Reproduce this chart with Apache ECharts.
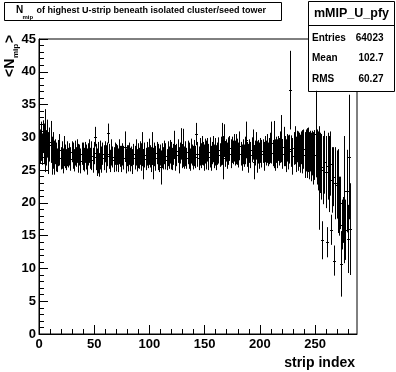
<!DOCTYPE html>
<html>
<head>
<meta charset="utf-8">
<script src="https://cdn.jsdelivr.net/npm/echarts@6/dist/echarts.min.js"></script>
<style>
html,body{margin:0;padding:0;background:#fff;}
#chart{width:396px;height:372px;}
</style>
</head>
<body>
<div id="chart"></div>
<script>
// ---- data ----
var nBins = 288;           // strip bins 0..287
var xTicks = [0, 50, 100, 150, 200, 250];
var xMinorTicks = [0, 10, 20, 30, 40, 50, 60, 70, 80, 90, 100, 110, 120, 130, 140, 150, 160, 170, 180, 190, 200, 210, 220, 230, 240, 250, 260, 270, 280];
var yTicks = [0, 5, 10, 15, 20, 25, 30, 35, 40, 45];

var means = [
  28.6, 29.4, 28.2, 30.1, 29.0, 29.5, 28.4, 29.8, 27.6, 28.9, 29.3, 27.2,
  28.0, 26.9, 27.8, 27.0, 26.5, 27.6, 28.1, 26.8, 27.3, 26.4, 27.9, 27.1,
  26.6, 27.5, 26.9, 27.4, 26.7, 27.8, 27.2, 26.5, 27.6, 27.0, 27.9, 26.8,
  27.3, 26.4, 27.5, 27.1, 26.6, 27.7, 27.0, 26.3, 27.4, 27.9, 26.8, 27.2,
  26.5, 27.6, 30.1, 27.0, 26.2, 26.9, 25.8, 27.3, 26.6, 27.5, 26.9, 27.8,
  26.7, 27.4, 30.6, 27.1, 26.4, 27.7, 27.0, 26.6, 27.5, 26.9, 27.3, 26.5,
  27.8, 27.1, 26.7, 27.4, 26.9, 28.6, 26.4, 27.2, 26.8, 27.5, 26.6, 27.1,
  26.3, 27.4, 26.9, 27.7, 26.5, 27.2, 26.8, 27.6, 27.0, 28.2, 25.9, 27.3,
  26.7, 27.5, 26.9, 27.8, 27.1, 26.6, 28.3, 26.0, 27.4, 26.8, 27.6, 27.0,
  26.5, 27.3, 25.4, 27.2, 26.8, 27.7, 27.1, 26.6, 27.5, 26.9, 27.8, 27.2,
  26.7, 27.4, 28.9, 26.8, 27.3, 27.9, 26.5, 27.6, 29.0, 27.1, 28.4, 26.9,
  27.5, 26.8, 27.7, 27.2, 26.6, 27.9, 27.3, 26.9, 27.6, 27.0, 30.5, 27.4,
  26.8, 27.8, 27.2, 28.0, 27.5, 26.9, 27.9, 27.3, 28.1, 27.0, 27.7, 26.8,
  27.6, 28.2, 27.1, 27.8, 26.9, 27.5, 28.0, 27.3, 27.9, 29.0, 26.9, 29.5,
  27.4, 28.0, 27.2, 27.9, 28.3, 27.5, 28.1, 27.7, 28.4, 27.6, 28.2, 27.8,
  27.3, 28.7, 27.5, 26.9, 27.8, 27.2, 28.0, 29.6, 27.4, 26.8, 27.9, 27.3,
  28.1, 28.9, 26.2, 27.6, 28.7, 27.0, 27.8, 27.2, 28.0, 27.5, 27.9, 27.1,
  28.2, 27.6, 28.3, 27.4, 27.9, 28.4, 29.2, 27.6, 28.9, 27.3, 28.1, 27.5,
  28.3, 27.8, 28.5, 29.8, 27.4, 28.6, 27.9, 27.2, 28.4, 27.7, 28.2, 37.2,
  27.9, 27.1, 28.3, 28.8, 27.4, 28.6, 27.9, 28.1, 27.5, 28.4, 27.8, 28.2,
  27.3, 28.0, 27.6, 28.1, 27.2, 27.9, 27.0, 27.6, 26.8, 27.3, 30.5, 27.0,
  26.4, 23.8, 26.1, 25.5, 14.3, 25.0, 26.2, 24.7, 14.0, 25.6, 24.4, 26.0,
  15.9, 23.5, 24.0, 11.2, 23.0, 22.8, 21.8, 19.5, 20.0, 10.7, 16.7, 17.4,
  20.5, 15.9, 21.8, 14.5, 27.0, 16.0, null, null, null, null, null, null
];
var errors = [
  2.6, 3.0, 2.4, 2.5, 3.1, 4.8, 2.7, 2.9, 3.2, 2.6, 3.2, 2.9,
  2.8, 2.6, 1.9, 2.2, 1.8, 2.0, 2.4, 1.7, 2.1, 1.9, 2.3, 1.8,
  1.6, 1.9, 1.5, 1.7, 1.8, 1.6, 2.0, 1.7, 1.9, 1.5, 1.8, 2.2,
  1.6, 1.9, 1.7, 2.1, 1.8, 1.6, 1.9, 2.0, 1.7, 1.8, 1.6, 2.2,
  1.9, 1.7, 1.5, 2.0, 2.1, 2.4, 1.8, 2.2, 2.0, 1.7, 1.9, 1.6,
  2.1, 1.8, 1.5, 1.9, 1.7, 2.0, 1.6, 1.9, 1.7, 2.1, 1.5, 1.8,
  1.9, 1.6, 2.0, 1.7, 1.8, 2.3, 1.9, 1.6, 2.0, 1.7, 1.8, 1.5,
  1.9, 1.6, 1.8, 2.0, 1.7, 1.9, 1.6, 1.8, 2.1, 2.6, 2.3, 1.9,
  1.7, 1.8, 1.6, 2.0, 1.7, 1.9, 2.5, 2.4, 1.8, 1.9, 1.7, 2.0,
  1.8, 1.6, 2.6, 1.9, 1.7, 1.8, 2.0, 1.6, 1.9, 1.7, 1.8, 2.1,
  1.7, 1.6, 2.1, 1.9, 1.7, 1.8, 2.0, 1.6, 2.4, 1.8, 2.9, 1.7,
  1.9, 1.6, 1.8, 2.0, 1.7, 1.9, 1.6, 1.8, 2.0, 1.7, 1.7, 1.9,
  1.8, 2.1, 1.9, 2.2, 1.8, 2.0, 1.9, 2.2, 1.8, 2.0, 2.3, 1.9,
  1.7, 2.0, 1.8, 2.1, 1.9, 1.7, 2.0, 1.8, 2.2, 3.2, 3.3, 2.5,
  1.9, 1.7, 2.0, 2.1, 1.9, 2.2, 2.0, 1.8, 2.1, 1.9, 2.3, 2.0,
  1.9, 2.2, 1.8, 2.0, 1.9, 1.7, 2.1, 2.8, 1.9, 2.2, 1.8, 2.0,
  1.9, 2.3, 2.6, 1.9, 2.1, 2.4, 1.8, 2.0, 1.9, 2.1, 1.8, 2.2,
  2.0, 1.9, 2.2, 1.8, 2.0, 2.3, 3.2, 2.0, 3.6, 2.4, 2.0, 2.2,
  1.9, 2.1, 2.4, 3.6, 2.2, 3.0, 2.3, 2.5, 2.1, 2.6, 2.2, 6.0,
  2.4, 2.8, 2.5, 2.9, 2.7, 2.4, 3.0, 2.6, 2.9, 2.5, 3.3, 3.0,
  3.5, 3.2, 3.8, 3.4, 3.6, 3.1, 3.7, 3.4, 4.0, 3.8, 6.6, 4.2,
  4.5, 7.9, 4.6, 5.0, 2.9, 5.2, 4.8, 5.5, 2.3, 5.1, 5.8, 4.9,
  2.3, 5.0, 4.5, 2.3, 5.5, 5.2, 6.4, 4.5, 4.0, 5.0, 3.8, 3.5,
  9.7, 4.6, 6.3, 5.2, 9.5, 7.0, null, null, null, null, null, null
];

var statsName = 'mMIP_U_pfy';
var statsLabels = ['Entries', 'Mean', 'RMS'];
var statsValues = ['64023', '102.7', '60.27'];

// ---- build ----
var points = [];
for (var i = 0; i < nBins; i++) {
  if (means[i] == null) continue;
  points.push([i + 0.5, means[i], errors[i]]);
}

var FONT = '"Liberation Sans", Arial, Helvetica, sans-serif';
var chart = echarts.init(document.getElementById('chart'), null, {renderer: 'canvas'});

function renderItem(params, api) {
  var x = api.value(0), m = api.value(1), e = api.value(2);
  var top = api.coord([x, m + e]);
  var bot = api.coord([x, m - e]);
  var l = api.coord([x - 0.5, m]);
  var r = api.coord([x + 0.5, m]);
  var px = Math.round(top[0]) + 0.5;
  var py = Math.round(l[1]) + 0.5;
  return {
    type: 'group',
    children: [
      {type: 'line', shape: {x1: px, y1: top[1], x2: px, y2: bot[1]}, style: {stroke: '#000', lineWidth: 1}},
      {type: 'line', shape: {x1: Math.floor(l[0]), y1: py, x2: Math.ceil(r[0]) + 1, y2: py}, style: {stroke: '#000', lineWidth: 1}}
    ]
  };
}

var statsChildren = [
  {type: 'rect', shape: {x: 308.5, y: 1.5, width: 86, height: 90}, style: {fill: '#fff', stroke: '#000', lineWidth: 1}},
  {type: 'line', shape: {x1: 308.5, y1: 25.5, x2: 394.5, y2: 25.5}, style: {stroke: '#000', lineWidth: 1}},
  {type: 'text', style: {text: statsName, x: 351.5, y: 14, align: 'center', verticalAlign: 'middle', font: 'bold 12.5px ' + FONT, fill: '#000'}}
];
var rowY = [38, 58.5, 79.5];
for (var k = 0; k < statsLabels.length; k++) {
  statsChildren.push({type: 'text', style: {text: statsLabels[k], x: 312, y: rowY[k], align: 'left', verticalAlign: 'middle', font: 'bold 10px ' + FONT, fill: '#000'}});
  statsChildren.push({type: 'text', style: {text: statsValues[k], x: 383.5, y: rowY[k], align: 'right', verticalAlign: 'middle', font: 'bold 10px ' + FONT, fill: '#000'}});
}

var option = {
  backgroundColor: '#fff',
  animation: false,
  grid: {left: 39, top: 39, width: 318, height: 295, show: true, borderColor: '#000', borderWidth: 1, backgroundColor: 'transparent', containLabel: false, outerBoundsMode: 'none'},
  xAxis: [{
    type: 'value', min: 0, max: nBins, interval: 50, position: 'bottom',
    axisLine: {show: true, lineStyle: {color: '#000', width: 1}},
    axisTick: {show: true, inside: true, length: 9, lineStyle: {color: '#000'}, customValues: xTicks},
    minorTick: {show: false},
    splitLine: {show: false},
    axisLabel: {show: true, margin: 4, color: '#000', fontFamily: FONT, fontWeight: 'bold', fontSize: 13, customValues: xTicks}
  }, {
    type: 'value', min: 0, max: nBins, interval: 10, position: 'bottom', offset: 0,
    axisLine: {show: false},
    axisTick: {show: true, inside: true, length: 5, lineStyle: {color: '#000'}, customValues: xMinorTicks},
    splitLine: {show: false},
    axisLabel: {show: false}
  }],
  yAxis: {
    type: 'value', min: 0, max: 45, interval: 5,
    axisLine: {show: true, lineStyle: {color: '#000', width: 1}},
    axisTick: {show: true, inside: true, length: 9, lineStyle: {color: '#000'}},
    minorTick: {show: true, splitNumber: 5, length: 5, lineStyle: {color: '#000'}},
    splitLine: {show: false},
    axisLabel: {show: true, margin: 3, color: '#000', fontFamily: FONT, fontWeight: 'bold', fontSize: 13, customValues: yTicks}
  },
  series: [{
    type: 'custom',
    renderItem: renderItem,
    data: points,
    xAxisIndex: 0,
    encode: {x: 0, y: 1},
    clip: true,
    silent: true
  }],
  graphic: [
    // title box
    {type: 'group', z: 100, children: [
      {type: 'rect', shape: {x: 4.5, y: 2.5, width: 277, height: 18}, style: {fill: '#fff', stroke: '#000', lineWidth: 1}},
      {type: 'text', style: {text: 'N', x: 16, y: 10.5, align: 'left', verticalAlign: 'middle', font: 'bold 10px ' + FONT, fill: '#000'}},
      {type: 'text', style: {text: 'mip', x: 22.5, y: 17, align: 'left', verticalAlign: 'middle', font: 'bold 6px ' + FONT, fill: '#000'}},
      {type: 'text', style: {text: 'of highest U-strip beneath isolated cluster/seed tower', x: 36.5, y: 10.5, align: 'left', verticalAlign: 'middle', font: 'bold 9px ' + FONT, fill: '#000'}}
    ]},
    // stats box
    {type: 'group', z: 100, children: statsChildren},
    // y axis title, rotated
    {type: 'group', x: 17, y: 77, rotation: Math.PI / 2, z: 100, children: [
      {type: 'text', style: {text: '<N', x: 0, y: 0, align: 'left', verticalAlign: 'bottom', font: 'bold 14px ' + FONT, fill: '#000'}},
      {type: 'text', style: {text: 'mip', x: 19, y: 3, align: 'left', verticalAlign: 'bottom', font: 'bold 8px ' + FONT, fill: '#000'}},
      {type: 'text', style: {text: '>', x: 34, y: 0, align: 'left', verticalAlign: 'bottom', font: 'bold 14px ' + FONT, fill: '#000'}}
    ]},
    // x axis title
    {type: 'text', z: 100, style: {text: 'strip index', x: 355, y: 363, align: 'right', verticalAlign: 'middle', font: 'bold 14px ' + FONT, fill: '#000'}}
  ]
};
chart.setOption(option);
</script>
</body>
</html>
